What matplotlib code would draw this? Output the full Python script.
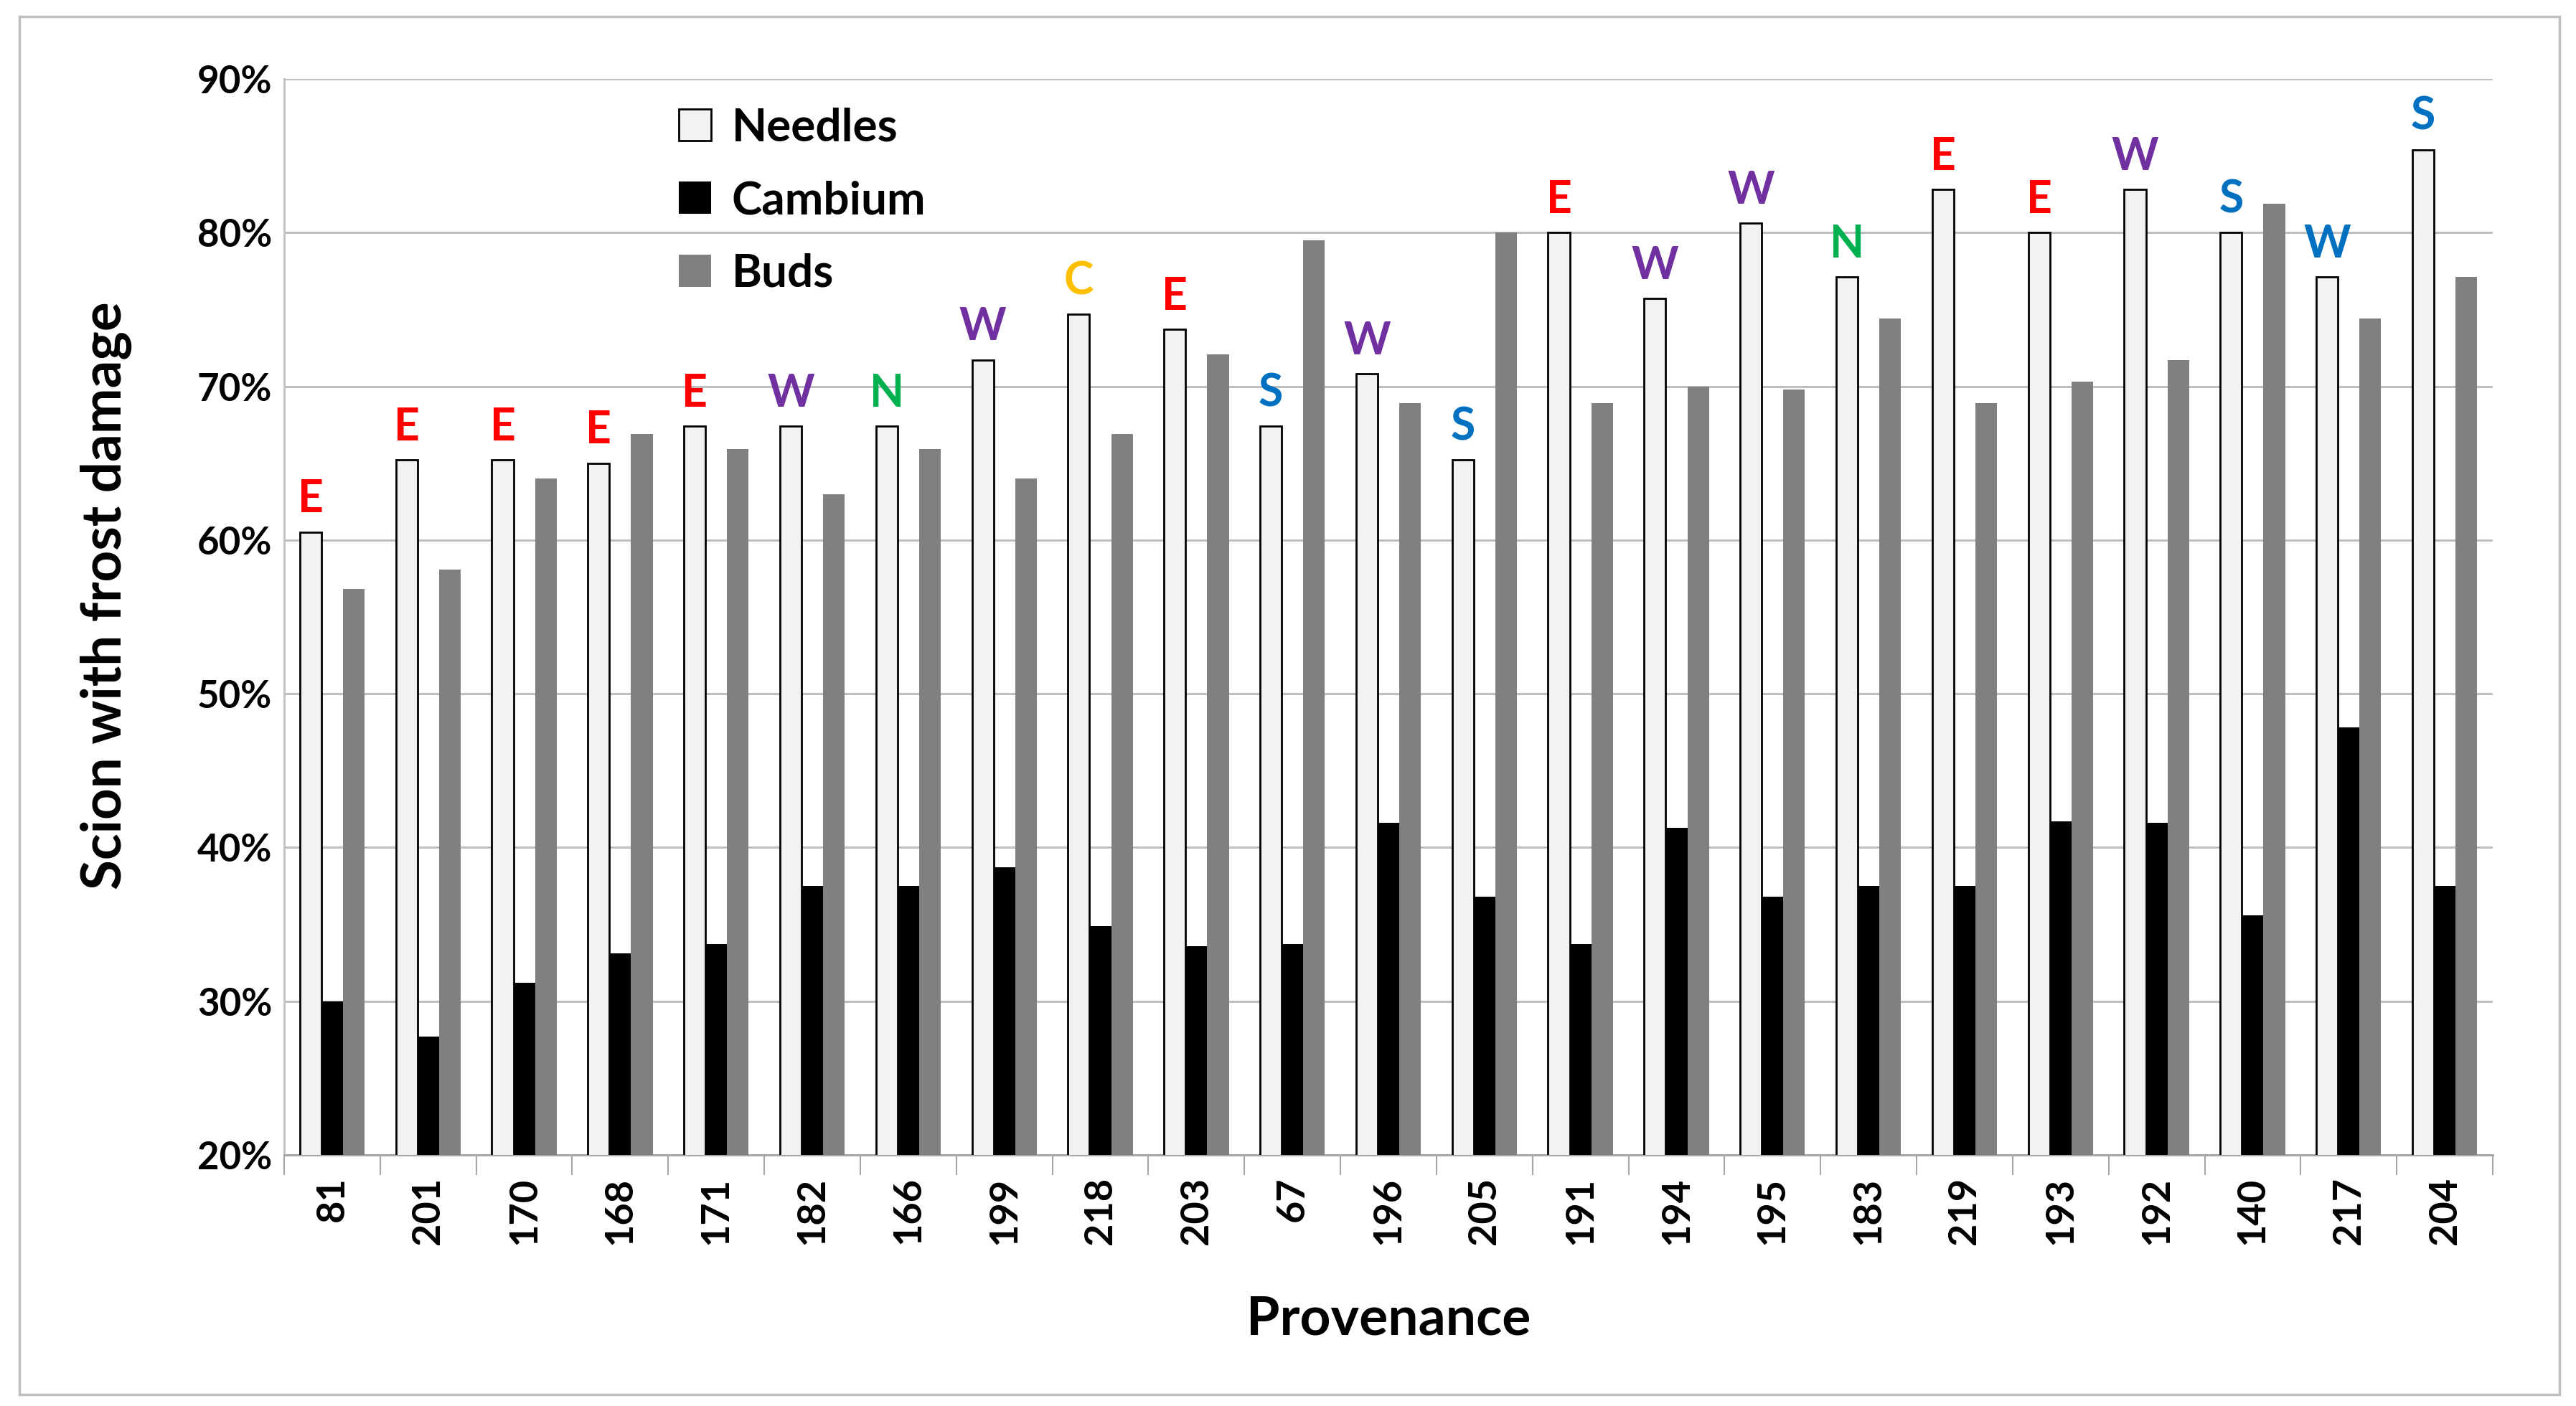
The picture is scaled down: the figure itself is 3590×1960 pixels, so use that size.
import matplotlib
matplotlib.use("Agg")
import matplotlib.pyplot as plt
import numpy as np
from matplotlib.patches import Rectangle, Patch
from matplotlib.ticker import PercentFormatter

plt.rcParams['font.family'] = ['Lato', 'DejaVu Sans']
plt.rcParams['font.weight'] = 'bold'

# data (percent)
provenance = ['81', '201', '170', '168', '171', '182', '166', '199', '218', '203', '67', '196',
              '205', '191', '194', '195', '183', '219', '193', '192', '140', '217', '204']
needles = [60.5, 65.2, 65.2, 65.0, 67.4, 67.4, 67.4, 71.7, 74.7, 73.7, 67.4, 70.8,
           65.2, 80.0, 75.7, 80.6, 77.1, 82.8, 80.0, 82.8, 80.0, 77.1, 85.4]
cambium = [30.0, 27.7, 31.2, 33.1, 33.7, 37.5, 37.5, 38.7, 34.9, 33.6, 33.7, 41.6,
           36.8, 33.7, 41.3, 36.8, 37.5, 37.5, 41.7, 41.6, 35.6, 47.8, 37.5]
buds = [56.8, 58.1, 64.0, 66.9, 65.9, 63.0, 65.9, 64.0, 66.9, 72.1, 79.5, 68.9,
        80.0, 68.9, 70.0, 69.8, 74.4, 68.9, 70.3, 71.7, 81.9, 74.4, 77.1]
region = ['E', 'E', 'E', 'E', 'E', 'W', 'N', 'W', 'C', 'E', 'S', 'W',
          'S', 'E', 'W', 'W', 'N', 'E', 'E', 'W', 'S', 'W', 'S']
region_color = ['#FF0000', '#FF0000', '#FF0000', '#FF0000', '#FF0000', '#7030A0', '#00B050',
                '#7030A0', '#FFC000', '#FF0000', '#0070C0', '#7030A0', '#0070C0', '#FF0000',
                '#7030A0', '#7030A0', '#00B050', '#FF0000', '#FF0000', '#7030A0', '#0070C0',
                '#0070C0', '#0070C0']

W, H = 3591, 1960
fig = plt.figure(figsize=(W / 100, H / 100), dpi=100)
ax = fig.add_axes([396 / W, 1 - 1610 / H, (3474 - 396) / W, (1610 - 110) / H])

x = np.arange(len(provenance))
bw = 0.225
ax.bar(x - bw, needles, bw, color='#F2F2F2', edgecolor='black', linewidth=2, zorder=3)
ax.bar(x, cambium, bw, color='black', zorder=3)
ax.bar(x + bw, buds, bw, color='#808080', zorder=3)

# region letter above each needles bar
for i in range(len(provenance)):
    ax.annotate(region[i], (x[i] - bw, needles[i]), xytext=(0, 12), textcoords='offset points',
                ha='center', va='bottom', color=region_color[i], fontsize=45, fontweight='bold')

ax.set_ylim(20, 90)
ax.set_xlim(-0.5, len(provenance) - 0.5)
ax.set_yticks(np.arange(20, 91, 10))
ax.yaxis.set_major_formatter(PercentFormatter(decimals=0))
ax.grid(axis='y', color='#BFBFBF', linewidth=2.2, zorder=0)
ax.set_axisbelow(True)

ax.set_xticks(x)
ax.set_xticklabels(provenance, rotation=90, fontsize=39, fontweight='bold')
ax.set_xticks(np.arange(-0.5, len(provenance)), minor=True)
ax.tick_params(axis='x', which='major', length=0, pad=22)
ax.tick_params(axis='x', which='minor', length=20, width=1.5, color='#A6A6A6')
ax.tick_params(axis='y', length=0, labelsize=38, pad=12)
for lab in ax.get_yticklabels():
    lab.set_fontweight('bold')

for s in ['top', 'right']:
    ax.spines[s].set_visible(False)
ax.spines['left'].set_color('#BFBFBF')
ax.spines['left'].set_linewidth(2)
ax.spines['bottom'].set_color('#A6A6A6')
ax.spines['bottom'].set_linewidth(2.2)

ax.set_ylabel('Scion with frost damage', fontsize=55, fontweight='bold')
ax.yaxis.set_label_coords(-0.069, 0.52)
ax.set_xlabel('Provenance', fontsize=54, fontweight='bold', labelpad=50)

handles = [Patch(facecolor='#F2F2F2', edgecolor='black', linewidth=2, label='Needles'),
           Patch(facecolor='black', label='Cambium'),
           Patch(facecolor='#808080', label='Buds')]
ax.legend(handles=handles, loc='upper left', bbox_to_anchor=(0.16, 1.012), frameon=False,
          handlelength=0.7, handleheight=0.7, handletextpad=0.45,
          labelspacing=0.7, prop={'weight': 'bold', 'size': 46})

fig.patches.append(Rectangle((27 / W, 1 - 1944 / H), (3567 - 27) / W, (1944 - 23) / H,
                             transform=fig.transFigure, fill=False, edgecolor='#BFBFBF',
                             linewidth=2.5))

fig.savefig('out.png', dpi=100)
